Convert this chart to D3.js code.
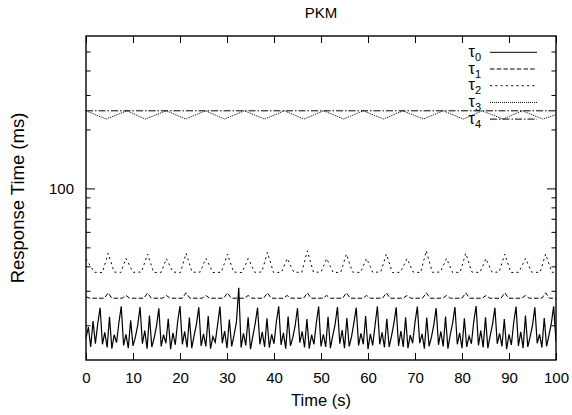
<!DOCTYPE html>
<html>
<head>
<meta charset="utf-8">
<script src="https://cdn.jsdelivr.net/npm/d3@7"></script>
<style>
  html, body { margin: 0; padding: 0; background: #fff; }
  text { font-family: "Liberation Sans", Arial, Helvetica, sans-serif; fill: #000; }
</style>
</head>
<body>
<svg id="chart" width="572" height="415"></svg>
<script>
// ---------------- data ----------------
const title = "PKM";
const xLabel = "Time (s)";
const yLabel = "Response Time (ms)";
const xTicks = [0, 10, 20, 30, 40, 50, 60, 70, 80, 90, 100];
const yMajorTicks = [100];
const yMinorTicks = [20, 30, 40, 50, 60, 70, 80, 90, 200, 300, 400, 500];
const seriesNames = ["0", "1", "2", "3", "4"];

// tau0 sampled every 0.5 s from t = 0 to t = 100
const tau0Step = 0.5;
const tau0 = [
  17.2, 19.6, 15.5, 21.0, 16.1, 20.4,
  24.6, 16.0, 18.4, 15.4, 22.1, 15.2, 17.9, 16.3, 20.6,
  25.0, 15.8, 18.0, 15.3, 21.2, 15.7, 17.4, 20.0,
  24.8, 16.1, 18.8, 15.2, 22.4, 15.5, 17.2, 19.8,
  24.4, 15.6, 17.9, 16.2, 21.6, 15.1, 18.3, 15.9, 20.9,
  25.1, 16.0, 18.6, 15.4, 21.9, 15.3, 17.7, 20.3,
  24.7, 15.7, 18.1, 15.6, 22.3, 15.2, 17.5, 16.4, 20.1,
  24.9, 16.2, 18.7, 15.3, 21.4, 15.6, 17.8, 20.7,
  31.1, 15.4, 18.2, 15.8, 22.0, 15.1, 17.6, 20.4,
  24.6, 16.0, 18.5, 15.5, 21.7, 15.4, 18.0, 16.1, 20.8,
  25.0, 15.9, 18.3, 15.2, 22.2, 15.7, 17.3, 19.9,
  24.5, 16.3, 18.6, 15.4, 21.5, 15.2, 17.9, 16.0, 20.5,
  24.9, 15.6, 18.0, 15.5, 22.1, 15.3, 17.7, 20.2,
  24.8, 16.1, 18.9, 15.3, 21.8, 15.6, 17.5, 20.6,
  24.6, 15.8, 18.2, 16.0, 22.3, 15.1, 18.1, 15.8, 20.0,
  25.0, 16.0, 18.4, 15.4, 21.6, 15.5, 17.6, 20.4,
  24.7, 15.7, 18.7, 15.5, 22.0, 15.3, 17.8, 16.2, 20.7,
  24.9, 16.2, 18.1, 15.2, 21.9, 15.6, 17.4, 20.1,
  24.5, 15.9, 18.6, 15.6, 22.2, 15.2, 17.9, 20.5,
  24.8, 16.0, 18.3, 15.3, 21.7, 15.5, 17.6, 16.1, 20.9,
  25.1, 15.8, 18.8, 15.4, 22.0, 15.3, 17.7, 20.3,
  24.6, 16.1, 18.2, 15.6, 21.5, 15.1, 18.0, 15.9, 20.6,
  24.9, 15.7, 18.5, 15.3, 22.4, 15.5, 17.5, 20.0,
  24.7, 16.2, 18.0, 15.4, 21.8, 15.6, 17.8, 20.4,
  25.0, 16.5
];

const tau1T = [0, 0.8, 3.9, 4.7, 5.5, 7.7, 8.5, 9.3, 12.3, 13.1, 13.9, 16.3, 17.1, 17.9, 20.5, 21.3, 22.1,
  24.7, 25.5, 26.3, 29.3, 30.1, 30.9, 33.7, 34.5, 35.3, 37.8, 38.6, 39.4, 42.0, 42.8, 43.6, 46.3, 47.1, 47.9,
  50.4, 51.2, 52.0, 54.6, 55.4, 56.2, 58.9, 59.7, 60.5, 63.1, 63.9, 64.7, 67.5, 68.3, 69.1, 71.6, 72.4, 73.2,
  75.9, 76.7, 77.5, 80.0, 80.8, 81.6, 84.3, 85.1, 85.9, 88.3, 89.1, 89.9, 92.7, 93.5, 94.3, 97.0, 97.8, 98.6, 100];
const tau1V = [28.0, 27.5, 27.5, 29.3, 27.5, 27.5, 28.4, 27.5, 27.5, 29.2, 27.5, 27.5, 28.4, 27.5, 27.5, 29.3, 27.5,
  27.5, 28.4, 27.5, 27.5, 29.3, 27.5, 27.5, 28.4, 27.5, 27.5, 29.3, 27.5, 27.5, 28.4, 27.5, 27.5, 29.3, 27.5,
  27.5, 28.4, 27.5, 27.5, 29.3, 27.5, 27.5, 28.4, 27.5, 27.5, 29.3, 27.5, 27.5, 28.4, 27.5, 27.5, 29.3, 27.5,
  27.5, 28.4, 27.5, 27.5, 29.3, 27.5, 27.5, 28.4, 27.5, 27.5, 29.3, 27.5, 27.5, 28.4, 27.5, 27.5, 29.3, 27.5, 27.5];

const tau2T = [0, 1.8, 3.5, 4.7, 6.0, 7.4, 8.5, 10.0, 11.8, 13.1, 14.4, 16.0, 17.1, 18.5, 20.1, 21.3, 22.6, 24.3,
  25.5, 27.0, 28.8, 30.1, 31.4, 33.2, 34.5, 35.9, 37.4, 38.6, 39.9, 41.6, 42.8, 44.2, 45.9, 47.1, 48.4, 50.0,
  51.2, 52.6, 54.2, 55.4, 56.7, 58.4, 59.7, 61.0, 62.7, 63.9, 65.2, 66.9, 68.3, 69.6, 71.2, 72.4, 73.7, 75.4,
  76.7, 78.0, 79.6, 80.8, 82.1, 83.8, 85.1, 86.4, 87.9, 89.1, 90.4, 92.1, 93.5, 94.8, 96.6, 97.8, 99.1, 100];
const tau2V = [43.6, 37.3, 37.2, 46.6, 37.4, 37.2, 43.9, 37.3, 37.4, 46.2, 37.2, 37.3, 43.8, 37.4, 37.2, 46.6, 37.3, 37.4,
  43.9, 37.2, 37.3, 46.2, 37.4, 37.2, 43.8, 37.3, 37.4, 47.1, 37.2, 37.3, 43.9, 37.4, 37.2, 48.0, 37.3, 37.4,
  43.8, 37.2, 37.3, 46.2, 37.4, 37.2, 43.9, 37.3, 37.4, 46.2, 37.2, 37.3, 43.8, 37.4, 37.2, 48.0, 37.3, 37.4,
  43.9, 37.2, 37.3, 46.6, 37.4, 37.2, 43.8, 37.3, 37.4, 46.2, 37.2, 37.3, 43.9, 37.4, 37.2, 46.2, 37.3, 37.3];

const tau3T = [0, 4.3, 8.7, 12.6, 17.1, 21.2, 25.4, 29.5, 33.7, 38.0, 42.2, 46.4, 50.6, 54.8, 59.0, 63.3,
  67.4, 71.8, 76.0, 80.3, 84.3, 88.7, 92.8, 97.2, 100];
const tau3V = [249, 226, 249, 226, 249, 226, 249, 226, 249, 226, 249, 226, 249, 226, 249, 226,
  249, 226, 249, 226, 249, 226, 249, 226, 238];

const tau4T = [0, 100];
const tau4V = [249, 249];

// ---------------- layout ----------------
const svg = d3.select("#chart");
const L = 86, R = 556, T = 36, B = 360;

const x = d3.scaleLinear().domain([0, 100]).range([L, R]);
const y = d3.scaleLog().domain([13.3, 600]).range([B, T]);

// title
svg.append("text").attr("x", (L + R) / 2).attr("y", 18)
  .attr("text-anchor", "middle").style("font-size", "15px").text(title);

// axes
const fmtNone = () => "";
const gB = svg.append("g").attr("transform", `translate(0,${B})`)
  .call(d3.axisBottom(x).tickValues(xTicks).tickFormat(d3.format("d")).tickSize(-7).tickPadding(12.7));
const gT = svg.append("g").attr("transform", `translate(0,${T})`)
  .call(d3.axisTop(x).tickValues(xTicks).tickFormat(fmtNone).tickSize(-7));
const gL = svg.append("g").attr("transform", `translate(${L},0)`)
  .call(d3.axisLeft(y).tickValues(yMajorTicks).tickFormat(d3.format("d")).tickSize(-9).tickPadding(12));
const gLm = svg.append("g").attr("transform", `translate(${L},0)`)
  .call(d3.axisLeft(y).tickValues(yMinorTicks).tickFormat(fmtNone).tickSize(-4.5));
const gR = svg.append("g").attr("transform", `translate(${R},0)`)
  .call(d3.axisRight(y).tickValues(yMajorTicks).tickFormat(fmtNone).tickSize(-9));
const gRm = svg.append("g").attr("transform", `translate(${R},0)`)
  .call(d3.axisRight(y).tickValues(yMinorTicks).tickFormat(fmtNone).tickSize(-4.5));

[gB, gT, gL, gLm, gR, gRm].forEach(g => {
  g.select(".domain").remove();
  g.selectAll(".tick line").attr("stroke", "#000").attr("stroke-width", 1);
  g.selectAll(".tick text").style("font-size", "15px")
    .style("font-family", '"Liberation Sans", Arial, sans-serif').attr("fill", "#000");
});

// frame
svg.append("rect").attr("x", L).attr("y", T).attr("width", R - L).attr("height", B - T)
  .attr("fill", "none").attr("stroke", "#000").attr("stroke-width", 1.4);

// axis labels
svg.append("text").attr("x", (L + R) / 2).attr("y", 406)
  .attr("text-anchor", "middle").style("font-size", "16.5px").text(xLabel);
svg.append("text").attr("transform", `translate(24,${(T + B) / 2}) rotate(-90)`)
  .attr("text-anchor", "middle").style("font-size", "18.5px").text(yLabel);

// series
const line = d3.line().x(d => x(d[0])).y(d => y(d[1]));
const zip = (ts, vs) => ts.map((t, i) => [t, vs[i]]);
const series = [
  { data: tau0.map((v, i) => [i * tau0Step, v]), dash: null, w: 1.2 },
  { data: zip(tau1T, tau1V), dash: "4.5,2.2", w: 1 },
  { data: zip(tau2T, tau2V), dash: "2,3.3", w: 1 },
  { data: zip(tau3T, tau3V), dash: "1,1", w: 1 },
  { data: zip(tau4T, tau4V), dash: "7,2,1.5,2", w: 1 }
];

svg.append("clipPath").attr("id", "plotclip")
  .append("rect").attr("x", L).attr("y", T).attr("width", R - L).attr("height", B - T);

const plot = svg.append("g").attr("clip-path", "url(#plotclip)");
series.forEach(s => {
  plot.append("path").attr("d", line(s.data)).attr("fill", "none")
    .attr("stroke", "#000").attr("stroke-width", s.w)
    .attr("stroke-dasharray", s.dash);
});

// legend
const legY0 = 52.3, legDy = 16.7;
series.forEach((s, i) => {
  const yy = legY0 + i * legDy;
  const t = svg.append("text").attr("x", 481).attr("y", yy + 4.5)
    .attr("text-anchor", "end").style("font-size", "16px");
  t.append("tspan").text("τ");
  t.append("tspan").attr("dy", 4).style("font-size", "11px").text(seriesNames[i]);
  svg.append("line").attr("x1", 490).attr("x2", 537).attr("y1", yy).attr("y2", yy)
    .attr("stroke", "#000").attr("stroke-width", 1).attr("stroke-dasharray", s.dash);
});
</script>
</body>
</html>
